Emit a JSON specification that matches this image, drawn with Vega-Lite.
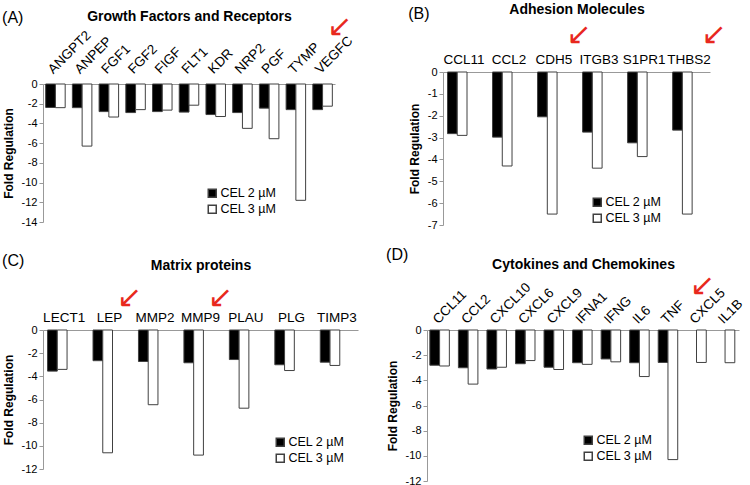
{
  "$schema": "https://vega.github.io/schema/vega-lite/v6.json",
  "padding": {"left": 2, "top": 2, "right": 2, "bottom": 0},
  "background": "white",
  "config": {
    "font": "Liberation Sans",
    "view": {"stroke": null},
    "axis": {"domainColor": "#999", "tickColor": "#999", "labelColor": "#000", "titleColor": "#000", "grid": false, "labelOverlap": false},
    "axisY": {"labelOverlap": false, "labelBound": false},
    "title": {"color": "#000"}
  },
  "datasets": {
    "A": [
      {"gene": "ANGPT2", "series": "CEL 2 µM", "value": -2.38, "highlight": false},
      {"gene": "ANGPT2", "series": "CEL 3 µM", "value": -2.4, "highlight": false},
      {"gene": "ANPEP", "series": "CEL 2 µM", "value": -2.4, "highlight": false},
      {"gene": "ANPEP", "series": "CEL 3 µM", "value": -6.3, "highlight": false},
      {"gene": "FGF1", "series": "CEL 2 µM", "value": -2.8, "highlight": false},
      {"gene": "FGF1", "series": "CEL 3 µM", "value": -3.35, "highlight": false},
      {"gene": "FGF2", "series": "CEL 2 µM", "value": -2.9, "highlight": false},
      {"gene": "FGF2", "series": "CEL 3 µM", "value": -2.6, "highlight": false},
      {"gene": "FIGF", "series": "CEL 2 µM", "value": -2.8, "highlight": false},
      {"gene": "FIGF", "series": "CEL 3 µM", "value": -2.65, "highlight": false},
      {"gene": "FLT1", "series": "CEL 2 µM", "value": -2.85, "highlight": false},
      {"gene": "FLT1", "series": "CEL 3 µM", "value": -2.15, "highlight": false},
      {"gene": "KDR", "series": "CEL 2 µM", "value": -3.1, "highlight": false},
      {"gene": "KDR", "series": "CEL 3 µM", "value": -3.3, "highlight": false},
      {"gene": "NRP2", "series": "CEL 2 µM", "value": -2.9, "highlight": false},
      {"gene": "NRP2", "series": "CEL 3 µM", "value": -4.5, "highlight": false},
      {"gene": "PGF", "series": "CEL 2 µM", "value": -2.45, "highlight": false},
      {"gene": "PGF", "series": "CEL 3 µM", "value": -5.55, "highlight": false},
      {"gene": "TYMP", "series": "CEL 2 µM", "value": -2.6, "highlight": true},
      {"gene": "TYMP", "series": "CEL 3 µM", "value": -11.8, "highlight": true},
      {"gene": "VEGFC", "series": "CEL 2 µM", "value": -2.6, "highlight": false},
      {"gene": "VEGFC", "series": "CEL 3 µM", "value": -2.25, "highlight": false}
    ],
    "B": [
      {"gene": "CCL11", "series": "CEL 2 µM", "value": -2.82, "highlight": false},
      {"gene": "CCL11", "series": "CEL 3 µM", "value": -2.9, "highlight": false},
      {"gene": "CCL2", "series": "CEL 2 µM", "value": -2.98, "highlight": false},
      {"gene": "CCL2", "series": "CEL 3 µM", "value": -4.3, "highlight": false},
      {"gene": "CDH5", "series": "CEL 2 µM", "value": -2.05, "highlight": true},
      {"gene": "CDH5", "series": "CEL 3 µM", "value": -6.5, "highlight": true},
      {"gene": "ITGB3", "series": "CEL 2 µM", "value": -2.75, "highlight": false},
      {"gene": "ITGB3", "series": "CEL 3 µM", "value": -4.4, "highlight": false},
      {"gene": "S1PR1", "series": "CEL 2 µM", "value": -3.24, "highlight": false},
      {"gene": "S1PR1", "series": "CEL 3 µM", "value": -3.87, "highlight": false},
      {"gene": "THBS2", "series": "CEL 2 µM", "value": -2.66, "highlight": true},
      {"gene": "THBS2", "series": "CEL 3 µM", "value": -6.5, "highlight": true}
    ],
    "C": [
      {"gene": "LECT1", "series": "CEL 2 µM", "value": -3.55, "highlight": false},
      {"gene": "LECT1", "series": "CEL 3 µM", "value": -3.4, "highlight": false},
      {"gene": "LEP", "series": "CEL 2 µM", "value": -2.65, "highlight": true},
      {"gene": "LEP", "series": "CEL 3 µM", "value": -10.6, "highlight": true},
      {"gene": "MMP2", "series": "CEL 2 µM", "value": -2.72, "highlight": false},
      {"gene": "MMP2", "series": "CEL 3 µM", "value": -6.45, "highlight": false},
      {"gene": "MMP9", "series": "CEL 2 µM", "value": -2.83, "highlight": true},
      {"gene": "MMP9", "series": "CEL 3 µM", "value": -10.8, "highlight": true},
      {"gene": "PLAU", "series": "CEL 2 µM", "value": -2.55, "highlight": false},
      {"gene": "PLAU", "series": "CEL 3 µM", "value": -6.75, "highlight": false},
      {"gene": "PLG", "series": "CEL 2 µM", "value": -3.0, "highlight": false},
      {"gene": "PLG", "series": "CEL 3 µM", "value": -3.5, "highlight": false},
      {"gene": "TIMP3", "series": "CEL 2 µM", "value": -2.78, "highlight": false},
      {"gene": "TIMP3", "series": "CEL 3 µM", "value": -3.06, "highlight": false}
    ],
    "D": [
      {"gene": "CCL11", "series": "CEL 2 µM", "value": -2.8, "highlight": false},
      {"gene": "CCL11", "series": "CEL 3 µM", "value": -2.86, "highlight": false},
      {"gene": "CCL2", "series": "CEL 2 µM", "value": -3.0, "highlight": false},
      {"gene": "CCL2", "series": "CEL 3 µM", "value": -4.3, "highlight": false},
      {"gene": "CXCL10", "series": "CEL 2 µM", "value": -3.1, "highlight": false},
      {"gene": "CXCL10", "series": "CEL 3 µM", "value": -2.96, "highlight": false},
      {"gene": "CXCL6", "series": "CEL 2 µM", "value": -2.68, "highlight": false},
      {"gene": "CXCL6", "series": "CEL 3 µM", "value": -2.43, "highlight": false},
      {"gene": "CXCL9", "series": "CEL 2 µM", "value": -2.96, "highlight": false},
      {"gene": "CXCL9", "series": "CEL 3 µM", "value": -3.14, "highlight": false},
      {"gene": "IFNA1", "series": "CEL 2 µM", "value": -2.6, "highlight": false},
      {"gene": "IFNA1", "series": "CEL 3 µM", "value": -2.73, "highlight": false},
      {"gene": "IFNG", "series": "CEL 2 µM", "value": -2.3, "highlight": false},
      {"gene": "IFNG", "series": "CEL 3 µM", "value": -2.53, "highlight": false},
      {"gene": "IL6", "series": "CEL 2 µM", "value": -2.6, "highlight": false},
      {"gene": "IL6", "series": "CEL 3 µM", "value": -3.7, "highlight": false},
      {"gene": "TNF", "series": "CEL 2 µM", "value": -2.58, "highlight": true},
      {"gene": "TNF", "series": "CEL 3 µM", "value": -10.3, "highlight": true},
      {"gene": "CXCL5", "series": "CEL 3 µM", "value": -2.58, "highlight": false},
      {"gene": "IL1B", "series": "CEL 3 µM", "value": -2.6, "highlight": false}
    ]
  },
  "resolve": {"legend": {"fill": "independent"}},
  "spacing": 17,
  "vconcat": [
    {
      "resolve": {"legend": {"fill": "independent"}},
      "spacing": 53,
      "hconcat": [
        {
          "title": {"text": "(A)", "anchor": "start", "frame": "bounds", "fontSize": 16, "fontWeight": "normal", "offset": -16},
          "width": 292, "height": 150,
          "data": {"name": "A"},
          "layer": [
            {
              "mark": {"type": "bar", "stroke": "#404040", "strokeWidth": 1},
              "encoding": {
                "x": {"field": "gene", "type": "nominal", "sort": null, "scale": {"paddingInner": 0.27, "paddingOuter": 0.1},
                      "axis": {"orient": "top", "offset": -12, "labelAngle": -45, "labelFontSize": 13.5, "ticks": false, "labelPadding": 8, "title": "Growth Factors and Receptors", "titleFontSize": 14, "titleFontWeight": "bold", "titlePadding": 4}},
                "xOffset": {"field": "series", "type": "nominal", "scale": {"paddingInner": 0, "paddingOuter": 0}},
                "y": {"field": "value", "type": "quantitative", "scale": {"domain": [-14, 0], "nice": false, "range": [150, 12]},
                      "axis": {"values": [0, -2, -4, -6, -8, -10, -12, -14], "labelOverlap": false, "labelExpr": "toString(datum.value)", "labelFontSize": 11, "tickSize": 4, "title": "Fold Regulation", "titleFontSize": 12, "titleFontWeight": "bold", "titlePadding": 6}},
                "fill": {"field": "series", "type": "nominal", "scale": {"domain": ["CEL 2 µM", "CEL 3 µM"], "range": ["#000000", "#ffffff"]},
                         "legend": {"orient": "none", "legendX": 163, "legendY": 115, "title": null, "symbolType": "square", "symbolSize": 64, "symbolStrokeColor": "#404040", "labelFontSize": 12.5, "rowPadding": 1, "labelOffset": 2}}
              }
            },
            {
              "transform": [{"filter": "datum.highlight && datum.series == 'CEL 2 µM'"}],
              "mark": {"type": "text", "text": "↙", "color": "#e8281e", "fontSize": 30, "font": "DejaVu Sans", "align": "center", "baseline": "middle", "dx": 44, "dy": -57},
              "encoding": {"x": {"field": "gene", "type": "nominal", "sort": null}, "y": {"datum": 0, "type": "quantitative", "axis": {"values": [0, -2, -4, -6, -8, -10, -12, -14], "labelOverlap": false, "labelExpr": "toString(datum.value)", "labelFontSize": 11, "tickSize": 4, "title": "Fold Regulation", "titleFontSize": 12, "titleFontWeight": "bold", "titlePadding": 6}}}
            }
          ]
        },
        {
          "title": {"text": "(B)", "anchor": "start", "frame": "bounds", "fontSize": 16, "fontWeight": "normal", "offset": -20},
          "width": 267, "height": 153,
          "data": {"name": "B"},
          "layer": [
            {
              "mark": {"type": "bar", "stroke": "#404040", "strokeWidth": 1},
              "encoding": {
                "x": {"field": "gene", "type": "nominal", "sort": null, "scale": {"paddingInner": 0.27, "paddingOuter": 0.1},
                      "axis": {"orient": "top", "labelAngle": 0, "labelFontSize": 13.5, "ticks": false, "labelPadding": 6, "title": "Adhesion Molecules", "titleFontSize": 14, "titleFontWeight": "bold", "titlePadding": 36}},
                "xOffset": {"field": "series", "type": "nominal", "scale": {"paddingInner": 0, "paddingOuter": 0}},
                "y": {"field": "value", "type": "quantitative", "scale": {"domain": [-7, 0], "nice": false},
                      "axis": {"values": [0, -1, -2, -3, -4, -5, -6, -7], "labelOverlap": false, "labelExpr": "toString(datum.value)", "labelFontSize": 11, "tickSize": 4, "title": "Fold Regulation", "titleFontSize": 12, "titleFontWeight": "bold", "titlePadding": 6}},
                "fill": {"field": "series", "type": "nominal", "scale": {"domain": ["CEL 2 µM", "CEL 3 µM"], "range": ["#000000", "#ffffff"]},
                         "legend": {"orient": "none", "legendX": 148, "legendY": 124, "title": null, "symbolType": "square", "symbolSize": 64, "symbolStrokeColor": "#404040", "labelFontSize": 12.5, "rowPadding": 1, "labelOffset": 2}}
              }
            },
            {
              "transform": [{"filter": "datum.highlight && datum.series == 'CEL 2 µM'"}],
              "mark": {"type": "text", "text": "↙", "color": "#e8281e", "fontSize": 30, "font": "DejaVu Sans", "align": "center", "baseline": "middle", "dx": 25, "dy": -37},
              "encoding": {"x": {"field": "gene", "type": "nominal", "sort": null}, "y": {"datum": 0, "type": "quantitative", "axis": {"values": [0, -1, -2, -3, -4, -5, -6, -7], "labelOverlap": false, "labelExpr": "toString(datum.value)", "labelFontSize": 11, "tickSize": 4, "title": "Fold Regulation", "titleFontSize": 12, "titleFontWeight": "bold", "titlePadding": 6}}}
            }
          ]
        }
      ]
    },
    {
      "resolve": {"legend": {"fill": "independent"}},
      "spacing": 28,
      "hconcat": [
        {
          "title": {"text": "(C)", "anchor": "start", "frame": "bounds", "fontSize": 16, "fontWeight": "normal", "offset": -11},
          "width": 315, "height": 139,
          "data": {"name": "C"},
          "layer": [
            {
              "mark": {"type": "bar", "stroke": "#404040", "strokeWidth": 1},
              "encoding": {
                "x": {"field": "gene", "type": "nominal", "sort": null, "scale": {"paddingInner": 0.27, "paddingOuter": 0.1},
                      "axis": {"orient": "top", "labelAngle": 0, "labelFontSize": 13.5, "ticks": false, "labelPadding": 6, "title": "Matrix proteins", "titleFontSize": 14, "titleFontWeight": "bold", "titlePadding": 38}},
                "xOffset": {"field": "series", "type": "nominal", "scale": {"paddingInner": 0, "paddingOuter": 0}},
                "y": {"field": "value", "type": "quantitative", "scale": {"domain": [-12, 0], "nice": false},
                      "axis": {"values": [0, -2, -4, -6, -8, -10, -12], "labelOverlap": false, "labelExpr": "toString(datum.value)", "labelFontSize": 11, "tickSize": 4, "title": "Fold Regulation", "titleFontSize": 12, "titleFontWeight": "bold", "titlePadding": 6}},
                "fill": {"field": "series", "type": "nominal", "scale": {"domain": ["CEL 2 µM", "CEL 3 µM"], "range": ["#000000", "#ffffff"]},
                         "legend": {"orient": "none", "legendX": 231, "legendY": 106, "title": null, "symbolType": "square", "symbolSize": 64, "symbolStrokeColor": "#404040", "labelFontSize": 12.5, "rowPadding": 1, "labelOffset": 2}}
              }
            },
            {
              "transform": [{"filter": "datum.highlight && datum.series == 'CEL 2 µM'"}],
              "mark": {"type": "text", "text": "↙", "color": "#e8281e", "fontSize": 30, "font": "DejaVu Sans", "align": "center", "baseline": "middle", "dx": 20, "dy": -32},
              "encoding": {"x": {"field": "gene", "type": "nominal", "sort": null}, "y": {"datum": 0, "type": "quantitative", "axis": {"values": [0, -2, -4, -6, -8, -10, -12], "labelOverlap": false, "labelExpr": "toString(datum.value)", "labelFontSize": 11, "tickSize": 4, "title": "Fold Regulation", "titleFontSize": 12, "titleFontWeight": "bold", "titlePadding": 6}}}
            }
          ]
        },
        {
          "title": {"text": "(D)", "anchor": "start", "frame": "bounds", "fontSize": 16, "fontWeight": "normal", "offset": -6},
          "width": 312, "height": 151,
          "data": {"name": "D"},
          "layer": [
            {
              "mark": {"type": "bar", "stroke": "#404040", "strokeWidth": 1},
              "encoding": {
                "x": {"field": "gene", "type": "nominal", "sort": null, "scale": {"paddingInner": 0.27, "paddingOuter": 0.1},
                      "axis": {"orient": "top", "labelAngle": -45, "labelFontSize": 13.5, "ticks": false, "labelPadding": 4, "title": "Cytokines and Chemokines", "titleFontSize": 14, "titleFontWeight": "bold", "titlePadding": 9}},
                "xOffset": {"field": "series", "type": "nominal", "scale": {"paddingInner": 0, "paddingOuter": 0}},
                "y": {"field": "value", "type": "quantitative", "scale": {"domain": [-12, 0], "nice": false},
                      "axis": {"values": [0, -2, -4, -6, -8, -10, -12], "labelOverlap": false, "labelExpr": "toString(datum.value)", "labelFontSize": 11, "tickSize": 4, "title": "Fold Regulation", "titleFontSize": 12, "titleFontWeight": "bold", "titlePadding": 6}},
                "fill": {"field": "series", "type": "nominal", "scale": {"domain": ["CEL 2 µM", "CEL 3 µM"], "range": ["#000000", "#ffffff"]},
                         "legend": {"orient": "none", "legendX": 155, "legendY": 104, "title": null, "symbolType": "square", "symbolSize": 64, "symbolStrokeColor": "#404040", "labelFontSize": 12.5, "rowPadding": 1, "labelOffset": 2}}
              }
            },
            {
              "transform": [{"filter": "datum.highlight && datum.series == 'CEL 2 µM'"}],
              "mark": {"type": "text", "text": "↙", "color": "#e8281e", "fontSize": 30, "font": "DejaVu Sans", "align": "center", "baseline": "middle", "dx": 34, "dy": -44},
              "encoding": {"x": {"field": "gene", "type": "nominal", "sort": null}, "y": {"datum": 0, "type": "quantitative", "axis": {"values": [0, -2, -4, -6, -8, -10, -12], "labelOverlap": false, "labelExpr": "toString(datum.value)", "labelFontSize": 11, "tickSize": 4, "title": "Fold Regulation", "titleFontSize": 12, "titleFontWeight": "bold", "titlePadding": 6}}}
            }
          ]
        }
      ]
    }
  ]
}
